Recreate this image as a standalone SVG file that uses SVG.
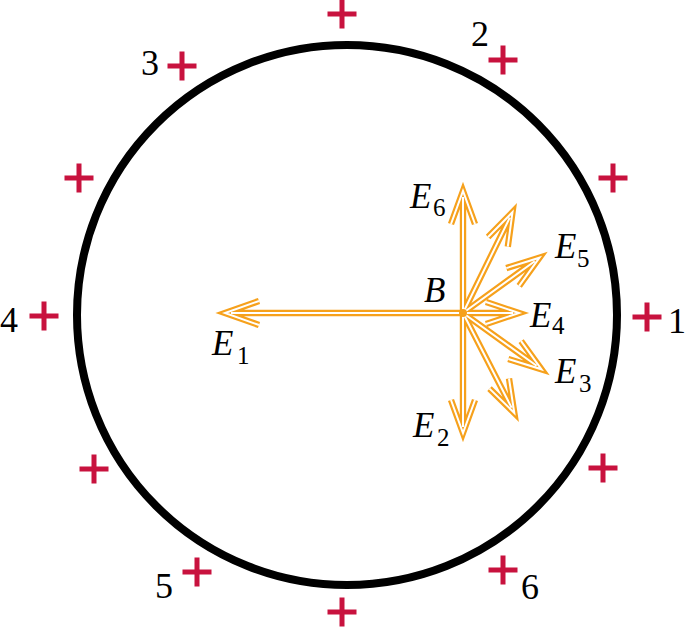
<svg xmlns="http://www.w3.org/2000/svg" xmlns:xlink="http://www.w3.org/1999/xlink" width="689" height="627" viewBox="0 0 689 627">
<style>
.ring{fill:none;stroke:#000;stroke-width:8}
.num{font-family:"Liberation Serif","Times New Roman",serif;font-size:36px;fill:#000}
.lbl{font-family:"Liberation Serif","Times New Roman",serif;font-size:35px;font-style:italic;fill:#000}
.sub{font-size:25px;font-style:normal}
.plus{fill:#C8123E}
.ao{fill:none;stroke:#F6A11C;stroke-width:6.4;stroke-linejoin:miter;stroke-linecap:butt}
.ai{fill:none;stroke:#fff;stroke-width:2;stroke-linejoin:miter;stroke-linecap:butt}
</style>
<defs>
<path id="plus" class="plus" d="M-14.5,-2.5h29v5h-29zM-2.5,-14.5h5v29h-5z"/>
</defs>
<g id="ring"><circle class="ring" cx="347" cy="315" r="270"/></g>
<g id="charge-top"><use xlink:href="#plus" x="342" y="14"/></g>
<g id="charge-2"><use xlink:href="#plus" x="503" y="60"/><text class="num" x="471" y="46">2</text></g>
<g id="charge-ur"><use xlink:href="#plus" x="613" y="178"/></g>
<g id="charge-1"><use xlink:href="#plus" x="647" y="317"/><text class="num" x="668" y="333">1</text></g>
<g id="charge-lr"><use xlink:href="#plus" x="603" y="468"/></g>
<g id="charge-6"><use xlink:href="#plus" x="503" y="570"/><text class="num" x="521" y="599">6</text></g>
<g id="charge-bottom"><use xlink:href="#plus" x="342" y="612"/></g>
<g id="charge-5"><use xlink:href="#plus" x="197" y="572"/><text class="num" x="155" y="598">5</text></g>
<g id="charge-ll"><use xlink:href="#plus" x="94" y="469"/></g>
<g id="charge-4"><use xlink:href="#plus" x="44" y="316"/><text class="num" x="0" y="332">4</text></g>
<g id="charge-ul"><use xlink:href="#plus" x="79" y="178"/></g>
<g id="charge-3"><use xlink:href="#plus" x="182" y="66"/><text class="num" x="141" y="75">3</text></g>
<g id="connectors">
<g class="ao">
<path d="M463,313L231,313M259,301L225,313L259,325"/>
<path d="M463,313L463,197M451,224L463,191L475,224"/>
<path d="M463,313L463,427M451,400L463,433L475,400"/>
<path d="M463,313L513,313M486,302L519,313L486,324"/>
<path d="M463,313L509.8,217.6M488.1,237L512.5,212.2L507.8,246.7"/>
<path d="M463,313L534.7,261.2M506.3,268.1L539.5,257.7L519.2,285.9"/>
<path d="M463,313L536.6,365.8M521.1,341.2L541.5,369.3L508.3,359"/>
<path d="M463,313L511.6,407.6M509,378.5L514.3,412.9L489.5,388.6"/>
</g>
<g class="ai">
<path d="M463,313L231,313M259,301L225,313L259,325"/>
<path d="M463,313L463,197M451,224L463,191L475,224"/>
<path d="M463,313L463,427M451,400L463,433L475,400"/>
<path d="M463,313L513,313M486,302L519,313L486,324"/>
<path d="M463,313L509.8,217.6M488.1,237L512.5,212.2L507.8,246.7"/>
<path d="M463,313L534.7,261.2M506.3,268.1L539.5,257.7L519.2,285.9"/>
<path d="M463,313L536.6,365.8M521.1,341.2L541.5,369.3L508.3,359"/>
<path d="M463,313L511.6,407.6M509,378.5L514.3,412.9L489.5,388.6"/>
</g>
</g>
<g id="point-B"><circle cx="463" cy="313" r="4" fill="#F6A11C"/><text class="lbl" x="424" y="302">B</text></g>
<g id="labels">
<text class="lbl" x="212" y="355">E<tspan class="sub" x="237" y="364">1</tspan></text>
<text class="lbl" x="413" y="437">E<tspan class="sub" x="437" y="446">2</tspan></text>
<text class="lbl" x="555" y="383">E<tspan class="sub" x="579" y="392">3</tspan></text>
<text class="lbl" x="530" y="327">E<tspan class="sub" x="552" y="334">4</tspan></text>
<text class="lbl" x="555" y="258">E<tspan class="sub" x="577" y="267">5</tspan></text>
<text class="lbl" x="410" y="208">E<tspan class="sub" x="433" y="216">6</tspan></text>
</g>
</svg>
